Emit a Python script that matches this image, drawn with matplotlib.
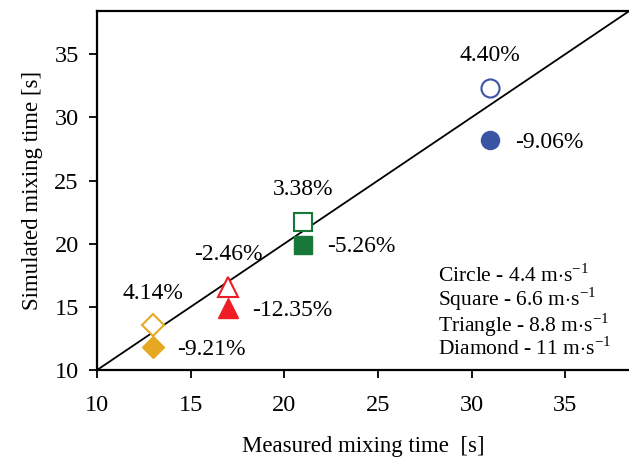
import matplotlib
matplotlib.use("Agg")
import matplotlib.pyplot as plt

plt.rcParams['font.family'] = ['Liberation Serif', 'DejaVu Serif']
plt.rcParams['mathtext.fontset'] = 'custom'
plt.rcParams['mathtext.rm'] = 'Liberation Serif'

# measured vs simulated mixing time (s)
measured = [31, 21, 17, 13]
sim_open = [32.36, 21.71, 16.58, 13.54]
sim_filled = [28.19, 19.90, 14.90, 11.80]
err_open = ['4.40%', '3.38%', '-2.46%', '4.14%']
err_filled = ['-9.06%', '-5.26%', '-12.35%', '-9.21%']
markers = ['o', 's', '^', 'D']
colors = ['#3a55a6', '#16793a', '#ee1c25', '#e6a823']
sizes = [13, 13, 14, 11]
legend_lines = [r'Circle - 4.4 m$\cdot$s$^{\mathregular{-1}}$',
                r'Square - 6.6 m$\cdot$s$^{\mathregular{-1}}$',
                r'Triangle - 8.8 m$\cdot$s$^{\mathregular{-1}}$',
                r'Diamond - 11 m$\cdot$s$^{\mathregular{-1}}$']

fig = plt.figure(figsize=(6.29, 4.65), dpi=100)
ax = fig.add_axes([0.154, 0.204, 0.846, 0.772])

lo, hi = 10, 38.4
ax.plot([lo, hi], [lo, hi], color='black', lw=1.3, zorder=1)

for i in range(len(measured)):
    ax.plot(measured[i], sim_open[i], marker=markers[i], ms=sizes[i],
            mfc='white', mec=colors[i], mew=1.5, ls='none', zorder=3)
    ax.plot(measured[i], sim_filled[i], marker=markers[i], ms=sizes[i],
            mfc=colors[i], mec=colors[i], ls='none', zorder=3)

# labels for the open markers (above) and filled markers (to the right)
for i in range(len(measured)):
    ax.text(measured[i], sim_open[i] + 2.55, err_open[i],
            ha='center', va='center', fontsize=17)
    ax.text(measured[i] + 1.3, sim_filled[i] - 0.15, err_filled[i],
            ha='left', va='center', fontsize=17)

ax.text(28.2, 14.6, '\n'.join(legend_lines), ha='left', va='center',
        fontsize=15.5, linespacing=0.93)

ax.set_xlim(lo, hi)
ax.set_ylim(lo, hi)
ax.set_xticks([10, 15, 20, 25, 30, 35])
ax.set_yticks([10, 15, 20, 25, 30, 35])
ax.tick_params(direction='out', length=6, width=1.3, labelsize=17.5, pad=7)
ax.tick_params(axis='x', pad=12)
for side in ['left', 'bottom', 'top']:
    ax.spines[side].set_linewidth(1.6)
ax.spines['right'].set_visible(False)

ax.set_xlabel('Measured mixing time  [s]', fontsize=16.5, labelpad=14)
ax.set_ylabel('Simulated mixing time [s]', fontsize=16.5, labelpad=8)

fig.savefig('out.png', dpi=100)
